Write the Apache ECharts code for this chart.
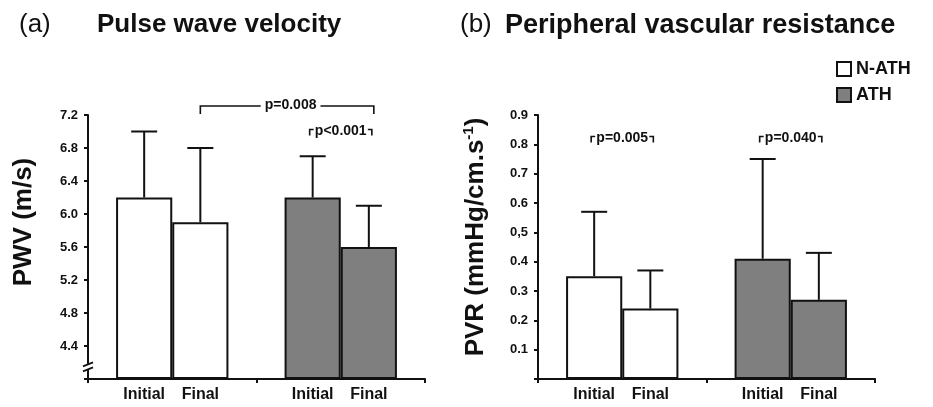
<!DOCTYPE html>
<html><head><meta charset="utf-8">
<script src="https://cdn.jsdelivr.net/npm/echarts@6/dist/echarts.min.js"></script>
<style>html,body{margin:0;padding:0;background:#fff}#c{width:933px;height:407px}</style>
</head><body><div id="c"></div>
<script>
// ---------- data ----------
const groups = ['N-ATH', 'ATH'];
const timepoints = ['Initial', 'Final'];
const pwvNath = [6.2, 5.9];
const pwvNathErr = [7.0, 6.8];
const pwvAth = [6.2, 5.6];
const pwvAthErr = [6.7, 6.1];
const pvrNath = [0.35, 0.24];
const pvrNathErr = [0.57, 0.37];
const pvrAth = [0.41, 0.27];
const pvrAthErr = [0.75, 0.43];
const pwvTickLabels = ['', '4.4', '4.8', '5.2', '5.6', '6.0', '6.4', '6.8', '7.2'];
const pvrTickLabels = ['', '0.1', '0.2', '0.3', '0.4', '0,5', '0.6', '0.7', '0.8', '0.9'];
const pwvAnnotations = [
  { from: 2, to: 5, level: 7.31, text: 'p=0.008', kind: 'long' },
  { from: 4, to: 5, level: 7.0, text: 'p<0.001', kind: 'short' }
];
const pvrAnnotations = [
  { from: 1, to: 2, level: 0.82, text: 'p=0.005', kind: 'short' },
  { from: 4, to: 5, level: 0.82, text: 'p=0.040', kind: 'short' }
];

// ---------- build ----------
const FONT = '"Liberation Sans", Arial, Helvetica, sans-serif';
const INK = '#111';
const GRAY = '#7f7f7f';
const slots = [''].concat(timepoints, [''], timepoints, ['']);
const nathSlots = [1, 2], athSlots = [4, 5];
function slotArray(idx, vals) {
  const a = slots.map(() => null);
  idx.forEach((s, i) => { a[s] = vals[i]; });
  return a;
}
function errData(nv, ne, av, ae) {
  return nathSlots.map((s, i) => [s, nv[i], ne[i]]).concat(athSlots.map((s, i) => [s, av[i], ae[i]]));
}
function errRender(params, api) {
  const x = api.value(0), m = api.value(1), t = api.value(2);
  const p0 = api.coord([x, m]), p1 = api.coord([x, t]);
  const hw = 13;
  const st = { stroke: INK, lineWidth: 2 };
  return { type: 'group', children: [
    { type: 'line', shape: { x1: p0[0], y1: p0[1], x2: p1[0], y2: p1[1] }, style: st },
    { type: 'line', shape: { x1: p1[0] - hw, y1: p1[1], x2: p1[0] + hw, y2: p1[1] }, style: st }
  ]};
}
function xAxis(gi) {
  return {
    type: 'category', gridIndex: gi, data: slots, boundaryGap: false,
    axisLine: { lineStyle: { color: INK, width: 2 } },
    axisTick: { show: true, interval: (i) => i % 3 === 0, length: 4, lineStyle: { color: INK, width: 2 } },
    axisLabel: { interval: 0, margin: 8, color: INK, fontFamily: FONT, fontWeight: 'bold', fontSize: 16 },
    splitLine: { show: false }
  };
}
function yAxis(gi, min, max, interval, labels) {
  return {
    type: 'value', gridIndex: gi, min: min, max: max, interval: interval, startValue: min,
    axisLine: { show: true, lineStyle: { color: INK, width: 2 } },
    axisTick: { show: true, length: 4, lineStyle: { color: INK, width: 2 } },
    axisLabel: {
      margin: 10, color: INK, fontFamily: FONT, fontWeight: 'bold', fontSize: 13,
      formatter: (v) => labels[Math.round((v - min) / interval)] || ''
    },
    splitLine: { show: false }
  };
}
function barSeries(name, gi, data, color) {
  return {
    type: 'bar', name: name, xAxisIndex: gi, yAxisIndex: gi, data: data,
    barWidth: '100%', barGap: '-100%', clip: true,
    itemStyle: { color: color, borderColor: INK, borderWidth: 2 },
    emphasis: { disabled: true }, animation: false
  };
}

const chart = echarts.init(document.getElementById('c'), null, { renderer: 'canvas' });
const option = {
  animation: false,
  backgroundColor: '#fff',
  textStyle: { fontFamily: FONT },
  title: [
    { text: '(a)', left: 19, top: 12, padding: 0, textStyle: { fontFamily: FONT, fontSize: 26, fontWeight: 'normal', color: INK } },
    { text: 'Pulse wave velocity', left: 97, top: 12, padding: 0, textStyle: { fontFamily: FONT, fontSize: 26, fontWeight: 'bold', color: INK } },
    { text: '(b)', left: 460, top: 12, padding: 0, textStyle: { fontFamily: FONT, fontSize: 26, fontWeight: 'normal', color: INK } },
    { text: 'Peripheral vascular resistance', left: 505, top: 12, padding: 0, textStyle: { fontFamily: FONT, fontSize: 27, fontWeight: 'bold', color: INK } }
  ],
  legend: {
    data: groups, orient: 'vertical', left: 836, top: 60, padding: 0, icon: 'rect',
    itemWidth: 14, itemHeight: 14, itemGap: 8, selectedMode: false,
    itemStyle: { borderColor: INK, borderWidth: 2 },
    textStyle: { fontFamily: FONT, fontSize: 18, fontWeight: 'bold', color: INK }
  },
  grid: [
    { left: 88, top: 115, width: 337, height: 264 },
    { left: 538, top: 115, width: 337, height: 264 }
  ],
  xAxis: [xAxis(0), xAxis(1)],
  yAxis: [
    yAxis(0, 4.0, 7.2, 0.4, pwvTickLabels),
    yAxis(1, 0, 0.9, 0.1, pvrTickLabels)
  ],
  series: [
    barSeries(groups[0], 0, slotArray(nathSlots, pwvNath), '#fff'),
    barSeries(groups[1], 0, slotArray(athSlots, pwvAth), GRAY),
    { type: 'custom', xAxisIndex: 0, yAxisIndex: 0, renderItem: errRender, data: errData(pwvNath, pwvNathErr, pwvAth, pwvAthErr), encode: { x: 0, y: [1, 2] }, z: 1, silent: true },
    barSeries(groups[0], 1, slotArray(nathSlots, pvrNath), '#fff'),
    barSeries(groups[1], 1, slotArray(athSlots, pvrAth), GRAY),
    { type: 'custom', xAxisIndex: 1, yAxisIndex: 1, renderItem: errRender, data: errData(pvrNath, pvrNathErr, pvrAth, pvrAthErr), encode: { x: 0, y: [1, 2] }, z: 1, silent: true }
  ]
};
chart.setOption(option);

// ---------- annotations (positions from the chart's own scales) ----------
const g = [];
function px(gi, slot, val) { return chart.convertToPixel({ xAxisIndex: gi, yAxisIndex: gi }, [slot, val]); }
function addAnn(gi, a) {
  const p1 = px(gi, a.from, a.level), p2 = px(gi, a.to, a.level);
  const st = { stroke: INK, lineWidth: 1.6, fill: null };
  const ts = { fontFamily: FONT, fontSize: 14, fontWeight: 'bold', fill: INK, align: 'center', verticalAlign: 'middle' };
  const cx = (p1[0] + p2[0]) / 2;
  if (a.kind === 'long') {
    const y = p1[1];
    g.push({ type: 'polyline', shape: { points: [[p1[0], y + 8], [p1[0], y], [p2[0] + 5, y], [p2[0] + 5, y + 8]] }, style: st, z: 10 });
    g.push({ type: 'text', x: cx + 6, y: y - 1, style: Object.assign({ text: a.text, backgroundColor: '#fff', padding: [0, 4] }, ts), z: 11 });
  } else {
    const y = p1[1];
    const x1 = p1[0] - 3, x2 = p2[0] + 3;
    g.push({ type: 'polyline', shape: { points: [[x1, y + 4], [x1, y - 2], [x1 + 4, y - 2]] }, style: st, z: 10 });
    g.push({ type: 'polyline', shape: { points: [[x2 - 4, y - 2], [x2, y - 2], [x2, y + 4]] }, style: st, z: 10 });
    g.push({ type: 'text', x: cx, y: y, style: Object.assign({ text: a.text }, ts), z: 11 });
  }
}
pwvAnnotations.forEach(a => addAnn(0, a));
pvrAnnotations.forEach(a => addAnn(1, a));

// axis break mark on the PWV axis
const bp = chart.convertToPixel({ xAxisIndex: 0, yAxisIndex: 0 }, [0, 4.14]);
g.push({ type: 'rect', shape: { x: bp[0] - 2, y: bp[1] - 3, width: 4, height: 5 }, style: { fill: '#fff' }, z: 20 });
g.push({ type: 'line', shape: { x1: bp[0] - 5, y1: bp[1] - 1, x2: bp[0] + 5, y2: bp[1] - 5 }, style: { stroke: INK, lineWidth: 1.8 }, z: 21 });
g.push({ type: 'line', shape: { x1: bp[0] - 5, y1: bp[1] + 4, x2: bp[0] + 5, y2: bp[1] }, style: { stroke: INK, lineWidth: 1.8 }, z: 21 });

// axis names (rotated text)
g.push({ type: 'text', x: 24, y: 222, rotation: Math.PI / 2, z: 5,
  style: { text: 'PWV (m/s)', fontFamily: FONT, fontSize: 26, fontWeight: 'bold', fill: INK, align: 'center', verticalAlign: 'middle' } });
g.push({ type: 'text', x: 476, y: 237, rotation: Math.PI / 2, z: 5,
  style: { text: '{n|PVR (mmHg/cm.s}{s|-1}{n|)}', fontFamily: FONT, fontSize: 26, fontWeight: 'bold', fill: INK, align: 'center', verticalAlign: 'middle',
    rich: {
      n: { fontFamily: FONT, fontSize: 26, fontWeight: 'bold', fill: INK, lineHeight: 30 },
      s: { fontFamily: FONT, fontSize: 15, fontWeight: 'bold', fill: INK, lineHeight: 30, verticalAlign: 'top' }
    } } });

chart.setOption({ graphic: g });
</script>
</body></html>
